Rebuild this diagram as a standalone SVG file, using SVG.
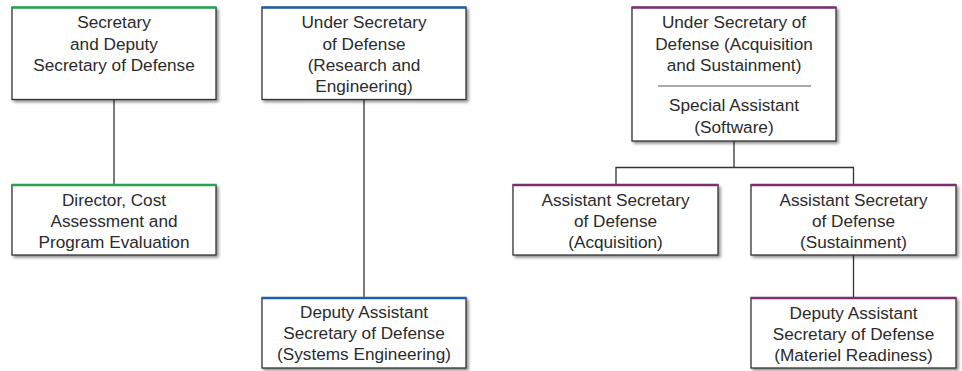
<svg xmlns="http://www.w3.org/2000/svg" width="962" height="371" viewBox="0 0 962 371">
<defs>
<filter id="sh" x="-5%" y="-5%" width="115%" height="125%">
<feDropShadow dx="2" dy="2" stdDeviation="1.5" flood-color="#000" flood-opacity="0.45"/>
</filter>
<style>
.box{fill:#fff;stroke:#333;stroke-width:1.3;filter:url(#sh)}
.g{stroke:#27a24e;stroke-width:2.5}
.b{stroke:#1f5fa3;stroke-width:2.5}
.p{stroke:#7d2f72;stroke-width:2.5}
.t{font-family:"Liberation Sans",Arial,sans-serif;font-size:17.2px;fill:#2b2b2b;text-anchor:middle}
.c{stroke:#333;stroke-width:1.3;fill:none}
</style>
</defs>
<rect width="962" height="371" fill="#fff"/>
<g id="connectors">
<line class="c" x1="114" y1="100" x2="114" y2="185"/>
<line class="c" x1="364" y1="100" x2="364" y2="298"/>
<polyline class="c" points="734,141 734,167.5"/>
<polyline class="c" points="616,185 616,167.5 853.5,167.5 853.5,185"/>
<line class="c" x1="853.5" y1="255" x2="853.5" y2="298"/>
</g>
<g id="secdef">
<rect class="box" x="12" y="7.5" width="204" height="92"/>
<line class="g" x1="11.5" y1="7.5" x2="216.5" y2="7.5"/>
<text class="t" x="114" y="28">Secretary</text>
<text class="t" x="114" y="49.5">and Deputy</text>
<text class="t" x="114" y="71">Secretary of Defense</text>
</g>
<g id="usdre">
<rect class="box" x="262" y="7.5" width="204" height="92"/>
<line class="b" x1="261.5" y1="7.5" x2="466.5" y2="7.5"/>
<text class="t" x="364" y="28">Under Secretary</text>
<text class="t" x="364" y="49.5">of Defense</text>
<text class="t" x="364" y="71">(Research and</text>
<text class="t" x="364" y="92">Engineering)</text>
</g>
<g id="usdas">
<rect class="box" x="632" y="7.5" width="204" height="133.5"/>
<line class="p" x1="631.5" y1="7.5" x2="836.5" y2="7.5"/>
<text class="t" x="734" y="28">Under Secretary of</text>
<text class="t" x="734" y="49.5">Defense (Acquisition</text>
<text class="t" x="734" y="71">and Sustainment)</text>
<line x1="658" y1="86" x2="811" y2="86" stroke="#555" stroke-width="1"/>
<text class="t" x="734" y="111">Special Assistant</text>
<text class="t" x="734" y="132.5">(Software)</text>
</g>
<g id="dcape">
<rect class="box" x="12" y="185" width="204" height="70"/>
<line class="g" x1="11.5" y1="185" x2="216.5" y2="185"/>
<text class="t" x="114" y="205.5">Director, Cost</text>
<text class="t" x="114" y="227">Assessment and</text>
<text class="t" x="114" y="248">Program Evaluation</text>
</g>
<g id="asda">
<rect class="box" x="513" y="185" width="205" height="70"/>
<line class="p" x1="512.5" y1="185" x2="718.5" y2="185"/>
<text class="t" x="615.5" y="205.5">Assistant Secretary</text>
<text class="t" x="615.5" y="227">of Defense</text>
<text class="t" x="615.5" y="248">(Acquisition)</text>
</g>
<g id="asds">
<rect class="box" x="751" y="185" width="205" height="70"/>
<line class="p" x1="750.5" y1="185" x2="956.5" y2="185"/>
<text class="t" x="853.5" y="205.5">Assistant Secretary</text>
<text class="t" x="853.5" y="227">of Defense</text>
<text class="t" x="853.5" y="248">(Sustainment)</text>
</g>
<g id="dasdse">
<rect class="box" x="262" y="298" width="204" height="70"/>
<line class="b" x1="261.5" y1="298" x2="466.5" y2="298"/>
<text class="t" x="364" y="318">Deputy Assistant</text>
<text class="t" x="364" y="339">Secretary of Defense</text>
<text class="t" x="364" y="360">(Systems Engineering)</text>
</g>
<g id="dasdmr">
<rect class="box" x="751" y="298" width="205" height="70"/>
<line class="p" x1="750.5" y1="298" x2="956.5" y2="298"/>
<text class="t" x="853.5" y="318.5">Deputy Assistant</text>
<text class="t" x="853.5" y="339.5">Secretary of Defense</text>
<text class="t" x="853.5" y="360.5">(Materiel Readiness)</text>
</g>
</svg>
